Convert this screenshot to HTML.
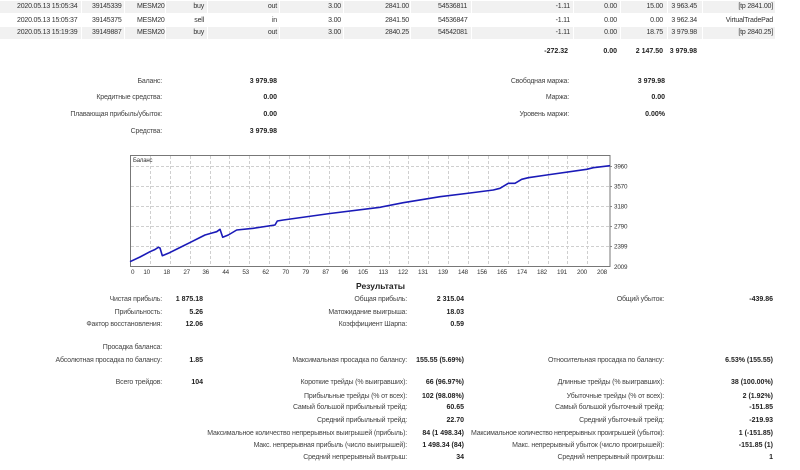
<!DOCTYPE html>
<html>
<head>
<meta charset="utf-8">
<style>
html,body{margin:0;padding:0;background:#fff;}
body{width:800px;height:470px;position:relative;overflow:hidden;font-family:"Liberation Sans","DejaVu Sans",sans-serif;font-size:7px;color:#444;letter-spacing:-0.18px;}
.t{position:absolute;white-space:nowrap;line-height:10px;}
.r{position:absolute;white-space:nowrap;line-height:10px;text-align:right;}
.b{font-weight:bold;color:#222;letter-spacing:0;}
.tb{letter-spacing:-0.2px;color:#333;}
.bg{position:absolute;background:#f1f1f1;height:12px;}
</style>
</head>
<body>
<!-- table row backgrounds -->
<div class="bg" style="left:0;top:1px;width:81px"></div>
<div class="bg" style="left:82px;top:1px;width:42px"></div>
<div class="bg" style="left:125px;top:1px;width:40px"></div>
<div class="bg" style="left:166px;top:1px;width:41px"></div>
<div class="bg" style="left:208px;top:1px;width:71px"></div>
<div class="bg" style="left:280px;top:1px;width:63px"></div>
<div class="bg" style="left:344px;top:1px;width:66px"></div>
<div class="bg" style="left:411px;top:1px;width:60px"></div>
<div class="bg" style="left:472px;top:1px;width:101px"></div>
<div class="bg" style="left:574px;top:1px;width:46px"></div>
<div class="bg" style="left:621px;top:1px;width:46px"></div>
<div class="bg" style="left:668px;top:1px;width:34px"></div>
<div class="bg" style="left:703px;top:1px;width:72px"></div>

<div class="bg" style="left:0;top:27px;width:81px"></div>
<div class="bg" style="left:82px;top:27px;width:42px"></div>
<div class="bg" style="left:125px;top:27px;width:40px"></div>
<div class="bg" style="left:166px;top:27px;width:41px"></div>
<div class="bg" style="left:208px;top:27px;width:71px"></div>
<div class="bg" style="left:280px;top:27px;width:63px"></div>
<div class="bg" style="left:344px;top:27px;width:66px"></div>
<div class="bg" style="left:411px;top:27px;width:60px"></div>
<div class="bg" style="left:472px;top:27px;width:101px"></div>
<div class="bg" style="left:574px;top:27px;width:46px"></div>
<div class="bg" style="left:621px;top:27px;width:46px"></div>
<div class="bg" style="left:668px;top:27px;width:34px"></div>
<div class="bg" style="left:703px;top:27px;width:72px"></div>

<!-- row 1 -->
<div class="t tb" style="left:17px;top:2px">2020.05.13 15:05:34</div>
<div class="t tb" style="left:92px;top:2px">39145339</div>
<div class="t tb" style="left:137px;top:2px">MESM20</div>
<div class="r tb" style="right:596px;top:2px">buy</div>
<div class="r tb" style="right:523px;top:2px">out</div>
<div class="r tb" style="right:459px;top:2px">3.00</div>
<div class="r tb" style="right:391px;top:2px">2841.00</div>
<div class="t tb" style="left:438px;top:2px">54536811</div>
<div class="r tb" style="right:230px;top:2px">-1.11</div>
<div class="r tb" style="right:183px;top:2px">0.00</div>
<div class="r tb" style="right:137px;top:2px">15.00</div>
<div class="r tb" style="right:103px;top:2px">3 963.45</div>
<div class="r tb" style="right:27px;top:2px">[tp 2841.00]</div>
<!-- row 2 -->
<div class="t tb" style="left:17px;top:15.5px">2020.05.13 15:05:37</div>
<div class="t tb" style="left:92px;top:15.5px">39145375</div>
<div class="t tb" style="left:137px;top:15.5px">MESM20</div>
<div class="r tb" style="right:596px;top:15.5px">sell</div>
<div class="r tb" style="right:523px;top:15.5px">in</div>
<div class="r tb" style="right:459px;top:15.5px">3.00</div>
<div class="r tb" style="right:391px;top:15.5px">2841.50</div>
<div class="t tb" style="left:438px;top:15.5px">54536847</div>
<div class="r tb" style="right:230px;top:15.5px">-1.11</div>
<div class="r tb" style="right:183px;top:15.5px">0.00</div>
<div class="r tb" style="right:137px;top:15.5px">0.00</div>
<div class="r tb" style="right:103px;top:15.5px">3 962.34</div>
<div class="r tb" style="right:27px;top:15.5px">VirtualTradePad</div>
<!-- row 3 -->
<div class="t tb" style="left:17px;top:28.3px">2020.05.13 15:19:39</div>
<div class="t tb" style="left:92px;top:28.3px">39149887</div>
<div class="t tb" style="left:137px;top:28.3px">MESM20</div>
<div class="r tb" style="right:596px;top:28.3px">buy</div>
<div class="r tb" style="right:523px;top:28.3px">out</div>
<div class="r tb" style="right:459px;top:28.3px">3.00</div>
<div class="r tb" style="right:391px;top:28.3px">2840.25</div>
<div class="t tb" style="left:438px;top:28.3px">54542081</div>
<div class="r tb" style="right:230px;top:28.3px">-1.11</div>
<div class="r tb" style="right:183px;top:28.3px">0.00</div>
<div class="r tb" style="right:137px;top:28.3px">18.75</div>
<div class="r tb" style="right:103px;top:28.3px">3 979.98</div>
<div class="r tb" style="right:27px;top:28.3px">[tp 2840.25]</div>
<!-- totals -->
<div class="r b" style="right:232px;top:46.7px">-272.32</div>
<div class="r b" style="right:183px;top:46.7px">0.00</div>
<div class="r b" style="right:137px;top:46.7px">2 147.50</div>
<div class="r b" style="right:103px;top:46.7px">3 979.98</div>

<!-- summary -->
<div class="r" style="right:638px;top:76.7px">Баланс:</div>
<div class="r b" style="right:523px;top:76.7px">3 979.98</div>
<div class="r" style="right:638px;top:93.3px">Кредитные средства:</div>
<div class="r b" style="right:523px;top:93.3px">0.00</div>
<div class="r" style="right:638px;top:110px">Плавающая прибыль/убыток:</div>
<div class="r b" style="right:523px;top:110px">0.00</div>
<div class="r" style="right:638px;top:126.7px">Средства:</div>
<div class="r b" style="right:523px;top:126.7px">3 979.98</div>

<div class="r" style="right:231px;top:76.7px">Свободная маржа:</div>
<div class="r b" style="right:135px;top:76.7px">3 979.98</div>
<div class="r" style="right:231px;top:93.3px">Маржа:</div>
<div class="r b" style="right:135px;top:93.3px">0.00</div>
<div class="r" style="right:231px;top:110px">Уровень маржи:</div>
<div class="r b" style="right:135px;top:110px">0.00%</div>

<!-- chart -->
<svg style="position:absolute;left:0;top:0" width="800" height="470" xmlns="http://www.w3.org/2000/svg">
  <g stroke="#cfcfcf" stroke-width="1" stroke-dasharray="3,2" shape-rendering="crispEdges">
    <line x1="131" y1="166.5" x2="610" y2="166.5"/>
    <line x1="131" y1="186.5" x2="610" y2="186.5"/>
    <line x1="131" y1="206.5" x2="610" y2="206.5"/>
    <line x1="131" y1="226.5" x2="610" y2="226.5"/>
    <line x1="131" y1="246.5" x2="610" y2="246.5"/>
    <line x1="150.5" y1="156" x2="150.5" y2="266"/>
    <line x1="170.5" y1="156" x2="170.5" y2="266"/>
    <line x1="190.5" y1="156" x2="190.5" y2="266"/>
    <line x1="210.5" y1="156" x2="210.5" y2="266"/>
    <line x1="229.5" y1="156" x2="229.5" y2="266"/>
    <line x1="249.5" y1="156" x2="249.5" y2="266"/>
    <line x1="269.5" y1="156" x2="269.5" y2="266"/>
    <line x1="289.5" y1="156" x2="289.5" y2="266"/>
    <line x1="309.5" y1="156" x2="309.5" y2="266"/>
    <line x1="329.5" y1="156" x2="329.5" y2="266"/>
    <line x1="349.5" y1="156" x2="349.5" y2="266"/>
    <line x1="369.5" y1="156" x2="369.5" y2="266"/>
    <line x1="389.5" y1="156" x2="389.5" y2="266"/>
    <line x1="408.5" y1="156" x2="408.5" y2="266"/>
    <line x1="428.5" y1="156" x2="428.5" y2="266"/>
    <line x1="448.5" y1="156" x2="448.5" y2="266"/>
    <line x1="468.5" y1="156" x2="468.5" y2="266"/>
    <line x1="488.5" y1="156" x2="488.5" y2="266"/>
    <line x1="508.5" y1="156" x2="508.5" y2="266"/>
    <line x1="528.5" y1="156" x2="528.5" y2="266"/>
    <line x1="548.5" y1="156" x2="548.5" y2="266"/>
    <line x1="567.5" y1="156" x2="567.5" y2="266"/>
    <line x1="587.5" y1="156" x2="587.5" y2="266"/>
  </g>
  <rect x="130.5" y="155.5" width="479.5" height="111" fill="none" stroke="#777" stroke-width="1" shape-rendering="crispEdges"/>
  <g stroke="#888" stroke-width="1" shape-rendering="crispEdges">
    <line x1="610" y1="166.5" x2="612" y2="166.5"/>
    <line x1="610" y1="186.5" x2="612" y2="186.5"/>
    <line x1="610" y1="206.5" x2="612" y2="206.5"/>
    <line x1="610" y1="226.5" x2="612" y2="226.5"/>
    <line x1="610" y1="246.5" x2="612" y2="246.5"/>
  </g>
  <text x="133" y="162" font-family="Liberation Sans, sans-serif" font-size="6" fill="#333">Баланс</text>
  <polyline fill="none" stroke="#1a1ab8" stroke-width="1.6" stroke-linejoin="round"
   points="130,261.7 140,257 150,251.7 155,249.5 158.3,247.3 160,248 162.3,255.7 168.3,253.3 180,247.5 191.7,241.7 200,237.5 205,235 212,233 216.7,231.7 220,229.3 222.7,237.3 228.3,235 236.7,230 253.3,228.3 275,225 277.3,221 283.3,220 330,213.5 380,207.3 403.3,202.7 440,196.7 470,193 493.3,190 500,188.3 508.3,183.3 515,183.3 521.7,179.3 528.3,177.7 546.7,175 586.7,169.3 593.3,167.7 610,165.7"/>
  <g font-family="Liberation Sans, sans-serif" font-size="6.3" fill="#333">
    <text x="614" y="168.3">3960</text>
    <text x="614" y="188.3">3570</text>
    <text x="614" y="208.3">3180</text>
    <text x="614" y="228.3">2790</text>
    <text x="614" y="248.3">2399</text>
    <text x="614" y="269">2009</text>
  </g>
  <g font-family="Liberation Sans, sans-serif" font-size="6.3" fill="#333" text-anchor="end">
    <text x="131" y="274" text-anchor="start">0</text>
    <text x="150" y="274">10</text>
    <text x="170" y="274">18</text>
    <text x="190" y="274">27</text>
    <text x="209" y="274">36</text>
    <text x="229" y="274">44</text>
    <text x="249" y="274">53</text>
    <text x="269" y="274">62</text>
    <text x="289" y="274">70</text>
    <text x="309" y="274">79</text>
    <text x="329" y="274">87</text>
    <text x="348" y="274">96</text>
    <text x="368" y="274">105</text>
    <text x="388" y="274">113</text>
    <text x="408" y="274">122</text>
    <text x="428" y="274">131</text>
    <text x="448" y="274">139</text>
    <text x="468" y="274">148</text>
    <text x="487" y="274">156</text>
    <text x="507" y="274">165</text>
    <text x="527" y="274">174</text>
    <text x="547" y="274">182</text>
    <text x="567" y="274">191</text>
    <text x="587" y="274">200</text>
    <text x="607" y="274">208</text>
  </g>
</svg>

<!-- results -->
<div class="t b" style="left:356px;top:281px;font-size:8.5px;line-height:11px">Результаты</div>

<div class="r" style="right:638px;top:295px">Чистая прибыль:</div>
<div class="r b" style="right:597px;top:295px">1 875.18</div>
<div class="r" style="right:638px;top:307.7px">Прибыльность:</div>
<div class="r b" style="right:597px;top:307.7px">5.26</div>
<div class="r" style="right:638px;top:320px">Фактор восстановления:</div>
<div class="r b" style="right:597px;top:320px">12.06</div>
<div class="r" style="right:638px;top:343.3px">Просадка баланса:</div>
<div class="r" style="right:638px;top:355.7px">Абсолютная просадка по балансу:</div>
<div class="r b" style="right:597px;top:355.7px">1.85</div>
<div class="r" style="right:638px;top:378.3px">Всего трейдов:</div>
<div class="r b" style="right:597px;top:378.3px">104</div>

<div class="r" style="right:393px;top:295px">Общая прибыль:</div>
<div class="r b" style="right:336px;top:295px">2 315.04</div>
<div class="r" style="right:393px;top:307.7px">Матожидание выигрыша:</div>
<div class="r b" style="right:336px;top:307.7px">18.03</div>
<div class="r" style="right:393px;top:320px">Коэффициент Шарпа:</div>
<div class="r b" style="right:336px;top:320px">0.59</div>
<div class="r" style="right:393px;top:355.7px">Максимальная просадка по балансу:</div>
<div class="r b" style="right:336px;top:355.7px">155.55 (5.69%)</div>

<div class="r" style="right:393px;top:378.3px">Короткие трейды (% выигравших):</div>
<div class="r b" style="right:336px;top:378.3px">66 (96.97%)</div>
<div class="r" style="right:393px;top:391.7px">Прибыльные трейды (% от всех):</div>
<div class="r b" style="right:336px;top:391.7px">102 (98.08%)</div>
<div class="r" style="right:393px;top:403.3px">Самый большой прибыльный трейд:</div>
<div class="r b" style="right:336px;top:403.3px">60.65</div>
<div class="r" style="right:393px;top:416px">Средний прибыльный трейд:</div>
<div class="r b" style="right:336px;top:416px">22.70</div>
<div class="r" style="right:393px;top:429px">Максимальное количество непрерывных выигрышей (прибыль):</div>
<div class="r b" style="right:336px;top:429px">84 (1 498.34)</div>
<div class="r" style="right:393px;top:441px">Макс. непрерывная прибыль (число выигрышей):</div>
<div class="r b" style="right:336px;top:441px">1 498.34 (84)</div>
<div class="r" style="right:393px;top:453.3px">Средний непрерывный выигрыш:</div>
<div class="r b" style="right:336px;top:453.3px">34</div>

<div class="r" style="right:136px;top:295px">Общий убыток:</div>
<div class="r b" style="right:27px;top:295px">-439.86</div>
<div class="r" style="right:136px;top:355.7px">Относительная просадка по балансу:</div>
<div class="r b" style="right:27px;top:355.7px">6.53% (155.55)</div>

<div class="r" style="right:136px;top:378.3px">Длинные трейды (% выигравших):</div>
<div class="r b" style="right:27px;top:378.3px">38 (100.00%)</div>
<div class="r" style="right:136px;top:391.7px">Убыточные трейды (% от всех):</div>
<div class="r b" style="right:27px;top:391.7px">2 (1.92%)</div>
<div class="r" style="right:136px;top:403.3px">Самый большой убыточный трейд:</div>
<div class="r b" style="right:27px;top:403.3px">-151.85</div>
<div class="r" style="right:136px;top:416px">Средний убыточный трейд:</div>
<div class="r b" style="right:27px;top:416px">-219.93</div>
<div class="r" style="right:136px;top:429px;letter-spacing:-0.25px">Максимальное количество непрерывных проигрышей (убыток):</div>
<div class="r b" style="right:27px;top:429px">1 (-151.85)</div>
<div class="r" style="right:136px;top:441px">Макс. непрерывный убыток (число проигрышей):</div>
<div class="r b" style="right:27px;top:441px">-151.85 (1)</div>
<div class="r" style="right:136px;top:453.3px">Средний непрерывный проигрыш:</div>
<div class="r b" style="right:27px;top:453.3px">1</div>
</body>
</html>
